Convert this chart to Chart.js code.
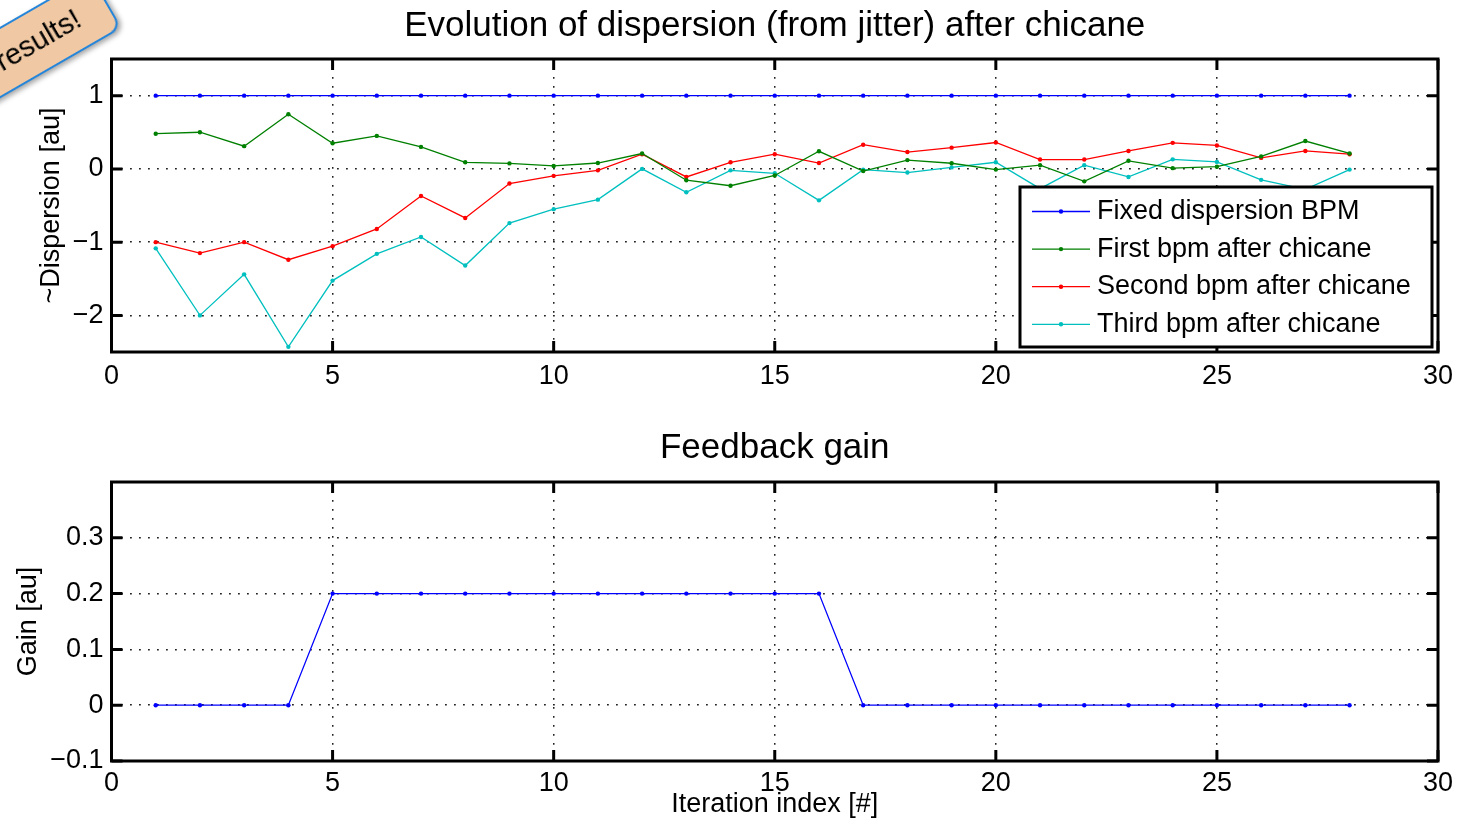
<!DOCTYPE html>
<html>
<head>
<meta charset="utf-8">
<script src="https://cdn.jsdelivr.net/npm/chart.js@4.4.0/dist/chart.umd.min.js"></script>
<style>
  body { margin: 0; background: #fff; width: 1463px; height: 826px; overflow: hidden; position: relative; }
  canvas { position: absolute; left: 0; }
  #dispChart { top: 0; }
  #gainChart { top: 400px; }
  .badge {
    position: absolute; left: -142px; top: -34px; width: 260px; height: 58px;
    background: #f0c9a4; border: 2px solid #2585d9; border-radius: 12px;
    box-shadow: 2px 3px 5px rgba(0,0,0,0.35);
    transform-origin: 100% 100%; transform: rotate(-30deg); z-index: 5;
    font-family: 'Liberation Sans', Arial, sans-serif; font-size: 29px; color: #000;
  }
  .badge span { position: absolute; right: 30px; bottom: 15px; line-height: 1; }
</style>
</head>
<body>
<canvas id="dispChart" width="1463" height="400"></canvas>
<canvas id="gainChart" width="1463" height="426"></canvas>
<div class="badge"><span>results!</span></div>
<script>
const iterations = [1, 2, 3, 4, 5, 6, 7, 8, 9, 10, 11, 12, 13, 14, 15, 16, 17, 18, 19, 20, 21, 22, 23, 24, 25, 26, 27, 28];
const fixedBpm  = [1, 1, 1, 1, 1, 1, 1, 1, 1, 1, 1, 1, 1, 1, 1, 1, 1, 1, 1, 1, 1, 1, 1, 1, 1, 1, 1, 1];
const firstBpm  = [0.48, 0.50, 0.31, 0.745, 0.35, 0.45, 0.30, 0.09, 0.075, 0.04, 0.08, 0.21, -0.155, -0.23, -0.09, 0.24, -0.03, 0.12, 0.077, -0.01, 0.05, -0.17, 0.11, 0.01, 0.03, 0.17, 0.38, 0.21];
const secondBpm = [-1.0, -1.15, -1.0, -1.24, -1.055, -0.82, -0.37, -0.67, -0.2, -0.095, -0.02, 0.2, -0.11, 0.09, 0.2, 0.08, 0.33, 0.23, 0.29, 0.36, 0.127, 0.127, 0.245, 0.355, 0.32, 0.15, 0.245, 0.2];
const thirdBpm  = [-1.085, -2.0, -1.44, -2.43, -1.525, -1.16, -0.93, -1.32, -0.74, -0.55, -0.42, 0.0, -0.32, -0.02, -0.06, -0.43, -0.01, -0.05, 0.02, 0.09, -0.27, 0.05, -0.11, 0.13, 0.095, -0.15, -0.28, -0.01];
const gainValues = [0, 0, 0, 0, 0.2, 0.2, 0.2, 0.2, 0.2, 0.2, 0.2, 0.2, 0.2, 0.2, 0.2, 0.2, 0, 0, 0, 0, 0, 0, 0, 0, 0, 0, 0, 0];

const xTicks = [0, 5, 10, 15, 20, 25, 30];
const dispersionTicks = [-2, -1, 0, 1];
const gainTicks = [-0.1, 0, 0.1, 0.2, 0.3];

Chart.defaults.font.family = "'Liberation Sans', Arial, Helvetica, sans-serif";
Chart.defaults.color = '#000';

const fmt = v => (v < 0 ? '\u2212' : '') + Math.abs(Math.round(v * 10) / 10);
const pts = arr => iterations.map((x, i) => ({x: x, y: arr[i]}));

function line(label, values, color) {
  return {
    label: label, data: pts(values), borderColor: color, backgroundColor: color,
    borderWidth: 1.3, pointRadius: 2.2, pointBorderWidth: 0, pointBackgroundColor: color, tension: 0
  };
}

const dotted = {color: '#222', lineWidth: 1.5, drawTicks: false, borderDash: [1.8, 7.2]};
const noBorder = {display: false, dash: [1.8, 7.2]};

// box round the plot, with inward ticks on all four sides
const framePlugin = {
  id: 'frame',
  afterDraw(chart) {
    const {ctx, chartArea: a, scales} = chart;
    const len = 11;
    ctx.save();
    ctx.strokeStyle = '#000';
    ctx.lineWidth = 3;
    ctx.beginPath();
    scales.x.ticks.forEach(t => {
      const px = scales.x.getPixelForValue(t.value);
      ctx.moveTo(px, a.bottom); ctx.lineTo(px, a.bottom - len);
      ctx.moveTo(px, a.top); ctx.lineTo(px, a.top + len);
    });
    scales.y.ticks.forEach(t => {
      const py = scales.y.getPixelForValue(t.value);
      ctx.moveTo(a.left, py); ctx.lineTo(a.left + len, py);
      ctx.moveTo(a.right, py); ctx.lineTo(a.right - len, py);
    });
    ctx.stroke();
    ctx.strokeRect(a.left, a.top, a.right - a.left, a.bottom - a.top);
    ctx.restore();
  }
};

// legend box drawn inside the plot
const boxLegend = {
  id: 'boxLegend',
  afterDraw(chart, args, o) {
    const {ctx} = chart;
    ctx.save();
    ctx.fillStyle = '#fff';
    ctx.fillRect(o.x, o.y, o.w, o.h);
    ctx.lineWidth = 3;
    ctx.strokeStyle = '#000';
    ctx.strokeRect(o.x, o.y, o.w, o.h);
    ctx.font = o.fontSize + "px 'Liberation Sans', Arial, sans-serif";
    ctx.textBaseline = 'middle';
    chart.data.datasets.forEach((ds, i) => {
      const cy = o.y + o.firstRow + i * o.rowGap;
      ctx.strokeStyle = ds.borderColor;
      ctx.lineWidth = 1.3;
      ctx.beginPath();
      ctx.moveTo(o.x + 12, cy); ctx.lineTo(o.x + 70, cy);
      ctx.stroke();
      ctx.fillStyle = ds.borderColor;
      ctx.beginPath();
      ctx.arc(o.x + 41, cy, 2.2, 0, Math.PI * 2);
      ctx.fill();
      ctx.fillStyle = '#000';
      ctx.fillText(ds.label, o.x + 77, cy);
    });
    ctx.restore();
  }
};

new Chart(document.getElementById('dispChart'), {
  type: 'line',
  data: {
    datasets: [
      line('Fixed dispersion BPM', fixedBpm, '#0000ff'),
      line('First bpm after chicane', firstBpm, '#008000'),
      line('Second bpm after chicane', secondBpm, '#ff0000'),
      line('Third bpm after chicane', thirdBpm, '#00bfbf')
    ]
  },
  options: {
    responsive: false,
    animation: false,
    layout: {padding: {left: 0, right: 25, top: 0, bottom: 0}},
    plugins: {
      legend: {display: false},
      tooltip: {enabled: false},
      title: {
        display: true, fullSize: false, text: 'Evolution of dispersion (from jitter) after chicane',
        font: {size: 35, weight: 'normal'}, color: '#000', padding: {top: 5.4, bottom: 11.6}
      },
      boxLegend: {x: 1020, y: 187, w: 412, h: 160, firstRow: 24.5, rowGap: 37.6, fontSize: 27}
    },
    scales: {
      x: {
        type: 'linear', min: 0, max: 30,
        afterBuildTicks: s => { s.ticks = xTicks.map(v => ({value: v})); },
        afterFit: s => { s.height = 48; },
        ticks: {padding: 8, font: {size: 27}, color: '#000', maxRotation: 0, autoSkip: false},
        grid: dotted, border: noBorder
      },
      y: {
        type: 'linear', min: -2.5, max: 1.5,
        afterBuildTicks: s => { s.ticks = dispersionTicks.map(v => ({value: v})); },
        afterFit: s => { s.width = 111.5; },
        ticks: {padding: 8, font: {size: 27}, color: '#000', callback: v => fmt(v)},
        grid: dotted, border: noBorder,
        title: {display: true, text: '~Dispersion [au]', font: {size: 27}, color: '#000', padding: {top: 35, bottom: 0}}
      }
    }
  },
  plugins: [framePlugin, boxLegend]
});

new Chart(document.getElementById('gainChart'), {
  type: 'line',
  data: {
    datasets: [line('Gain', gainValues, '#0000ff')]
  },
  options: {
    responsive: false,
    animation: false,
    layout: {padding: {left: 0, right: 25, top: 0, bottom: 0}},
    plugins: {
      legend: {display: false},
      tooltip: {enabled: false},
      title: {
        display: true, fullSize: false, text: 'Feedback gain',
        font: {size: 35, weight: 'normal'}, color: '#000', padding: {top: 27.4, bottom: 12.6}
      }
    },
    scales: {
      x: {
        type: 'linear', min: 0, max: 30,
        afterBuildTicks: s => { s.ticks = xTicks.map(v => ({value: v})); },
        afterFit: s => { s.height = 65; },
        ticks: {padding: 6, font: {size: 27}, color: '#000', maxRotation: 0, autoSkip: false},
        grid: dotted, border: noBorder,
        title: {display: true, text: 'Iteration index [#]', font: {size: 27}, color: '#000', padding: {top: 0, bottom: 5}}
      },
      y: {
        type: 'linear', min: -0.1, max: 0.4,
        afterBuildTicks: s => { s.ticks = gainTicks.map(v => ({value: v})); },
        afterFit: s => { s.width = 111.5; },
        ticks: {padding: 8, font: {size: 27}, color: '#000', callback: v => fmt(v)},
        grid: dotted, border: noBorder,
        title: {display: true, text: 'Gain [au]', font: {size: 27}, color: '#000', padding: {top: 12.5, bottom: 0}}
      }
    }
  },
  plugins: [framePlugin]
});
</script>
</body>
</html>
